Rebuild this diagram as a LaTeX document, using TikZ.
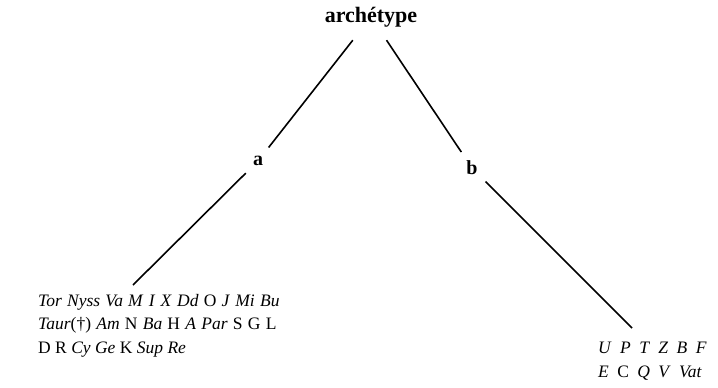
\documentclass[tikz,border=0pt]{standalone}
\usepackage{fontspec}
\setmainfont{Liberation Serif}
\usepackage{tikz}
\usetikzlibrary{shapes.geometric}
\tikzstyle{root} = [
    rectangle,
    minimum width=96pt,
    minimum height=46pt,
    inner sep=0pt,
    font=\fontsize{22}{24}\selectfont\bfseries
]
\tikzstyle{family} = [
    circle,
    inner sep=0pt,
    font=\fontsize{20}{22}\selectfont\bfseries
]
\tikzstyle{witnesses} = [
    align=left,
    inner sep=0pt,
    anchor=north west,
    font=\fontsize{17.5}{23.5}\selectfont
]
\tikzstyle{line} = [line width=1.6pt]
\newcommand{\sig}[1]{\textit{#1}}

\begin{document}
\begin{tikzpicture}[x=1pt, y=-1pt]
\useasboundingbox (0,0) rectangle (718,388);

\node (arch) [root] at (371,17) {archétype};

\node (a) [family, minimum size=34pt] at (258,161) {a};
\node (b) [family, minimum size=38pt] at (472,168) {b};

\node (lista) [witnesses] at (38,294)
{\spaceskip=0.3em \sig{Tor} \sig{Nyss} \sig{Va} \sig{M} \sig{I} \sig{X} \sig{Dd} O \sig{J} \sig{Mi} \sig{Bu}\\
 \spaceskip=0.3em \sig{Taur}(\dag) \sig{Am} N \sig{Ba} H \sig{A} \sig{Par} S G L\\
 \spaceskip=0.25em D R \sig{Cy} \sig{Ge} K \sig{Sup} \sig{Re}};

\node (listb) [witnesses] at (598,342)
{\spaceskip=0.48em \sig{U} \sig{P} \sig{T} \sig{Z} \sig{B} \sig{F}\\
 \spaceskip=0.48em \sig{E} C \sig{Q} \sig{V} \sig{Vat}};

\coordinate (aend) at (133,285);
\coordinate (bend) at (632,328);

\draw [line] (arch) -- (a);
\draw [line] (a) -- (aend);
\draw [line] (arch) -- (b);
\draw [line] (b) -- (bend);

\end{tikzpicture}
\end{document}
